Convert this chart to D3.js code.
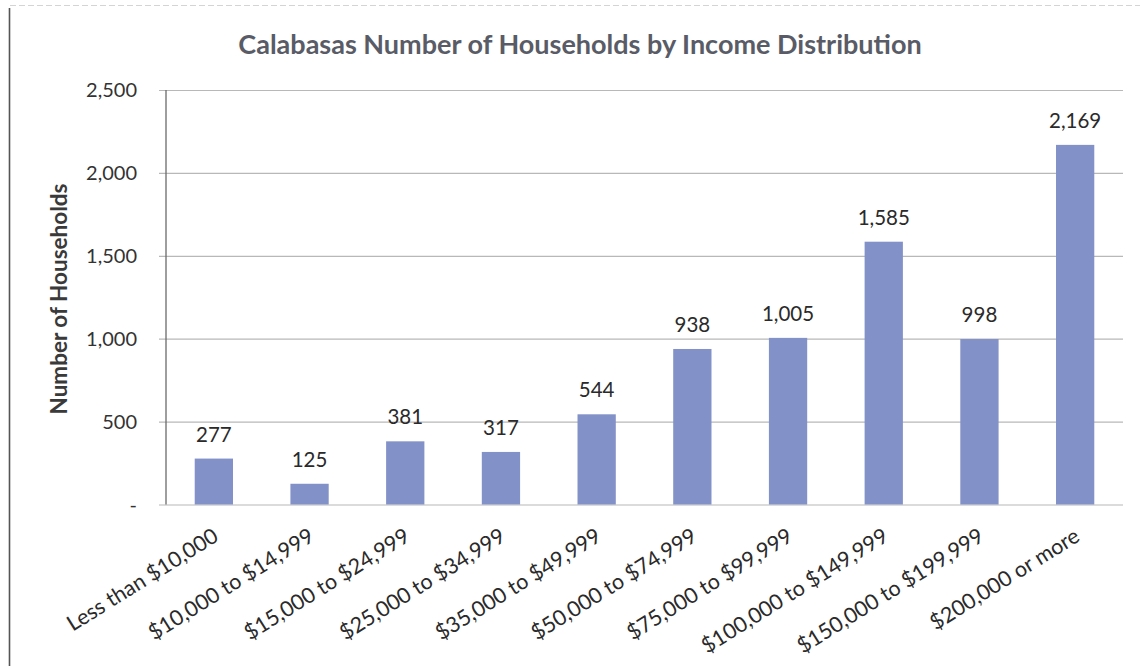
<!DOCTYPE html>
<html>
<head>
<meta charset="utf-8">
<script src="https://cdn.jsdelivr.net/npm/d3@7"></script>
<style>
  html, body { margin: 0; padding: 0; background: #fff; }
  svg { display: block; }
  text { font-family: Lato, "Open Sans", sans-serif; }
</style>
</head>
<body>
<svg id="chart" width="1140" height="666"></svg>
<script>
// Households by income bracket, Calabasas
const categories = [
  "Less than $10,000",
  "$10,000 to $14,999",
  "$15,000 to $24,999",
  "$25,000 to $34,999",
  "$35,000 to $49,999",
  "$50,000 to $74,999",
  "$75,000 to $99,999",
  "$100,000 to $149,999",
  "$150,000 to $199,999",
  "$200,000 or more"
];
const households = [277, 125, 381, 317, 544, 938, 1005, 1585, 998, 2169];
const yTicks = [0, 500, 1000, 1500, 2000, 2500];
const yTickLabels = ["-", "500", "1,000", "1,500", "2,000", "2,500"];

const svg = d3.select("#chart");
const W = 1140, H = 666;
const plot = { left: 166, right: 1123, top: 90, bottom: 504.5 };

// outer frame edges
svg.append("line")
  .attr("x1", 9.5).attr("x2", 9.5).attr("y1", 8).attr("y2", H)
  .attr("stroke", "#555").attr("stroke-width", 1.6);
svg.append("line")
  .attr("x1", 10).attr("x2", W).attr("y1", 5.5).attr("y2", 5.5)
  .attr("stroke", "#d4d4d4").attr("stroke-width", 1)
  .attr("stroke-dasharray", "6 3");

const x = d3.scaleBand()
  .domain(categories)
  .range([plot.left, plot.right])
  .paddingInner(0.6)
  .paddingOuter(0.3);

const y = d3.scaleLinear()
  .domain([0, 2500])
  .range([plot.bottom, plot.top]);

// horizontal gridlines (with short tick stubs left of the axis)
const yAxis = d3.axisLeft(y)
  .tickValues(yTicks)
  .tickSize(plot.right - plot.left + 7)
  .tickFormat((d, i) => yTickLabels[i]);

const gy = svg.append("g")
  .attr("transform", `translate(${plot.right},0)`)
  .call(yAxis);
gy.select(".domain").remove();
gy.selectAll(".tick line")
  .attr("stroke", "#b8b8b8")
  .attr("stroke-width", 1.2);
gy.selectAll(".tick text")
  .attr("x", -(plot.right - plot.left) - 29)
  .attr("dy", "0.34em")
  .attr("fill", "#333")
  .style("font-size", "20px")
  .style("font-family", "Lato, sans-serif");

// vertical value axis line
svg.append("line")
  .attr("x1", plot.left).attr("x2", plot.left)
  .attr("y1", plot.top).attr("y2", plot.bottom)
  .attr("stroke", "#6a6a6a").attr("stroke-width", 1.3);

// bars
svg.append("g").selectAll("rect")
  .data(households)
  .join("rect")
  .attr("x", (d, i) => x(categories[i]))
  .attr("y", d => y(d))
  .attr("width", x.bandwidth())
  .attr("height", d => y(0) - y(d))
  .attr("fill", "#8291c7");

// value labels
svg.append("g").selectAll("text")
  .data(households)
  .join("text")
  .attr("x", (d, i) => x(categories[i]) + x.bandwidth() / 2)
  .attr("y", d => y(d) - 17)
  .attr("text-anchor", "middle")
  .attr("fill", "#2a2a2a")
  .style("font-size", "20.5px")
  .text(d => d3.format(",")(d));

// rotated category labels
svg.append("g").selectAll("text")
  .data(categories)
  .join("text")
  .attr("transform", d => `translate(${x(d) + x.bandwidth() / 2 + 6},540) rotate(-32)`)
  .attr("text-anchor", "end")
  .attr("fill", "#2a2a2a")
  .style("font-size", "21.5px")
  .text(d => d);

// y-axis title
svg.append("text")
  .attr("transform", `translate(67,299) rotate(-90)`)
  .attr("text-anchor", "middle")
  .attr("fill", "#3a3a3a")
  .style("font-size", "22.5px")
  .style("font-weight", "bold")
  .text("Number of Households");

// chart title
svg.append("text")
  .attr("x", 580)
  .attr("y", 54)
  .attr("text-anchor", "middle")
  .attr("fill", "#595c66")
  .style("font-size", "27px")
  .style("font-weight", "bold")
  .text("Calabasas Number of Households by Income Distribution");
</script>
</body>
</html>
